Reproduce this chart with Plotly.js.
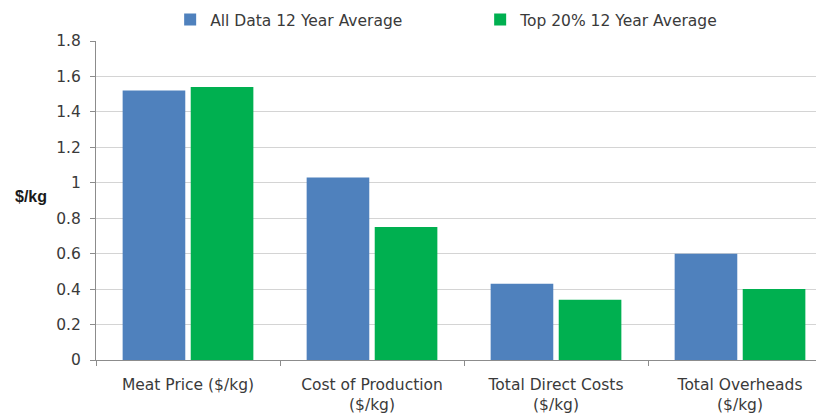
<!DOCTYPE html>
<html>
<head>
<meta charset="utf-8">
<script src="https://cdn.plot.ly/plotly-3.0.1.min.js"></script>
<style>html,body{margin:0;padding:0;background:#fff;}#chart{width:816px;height:420px;}</style>
</head>
<body>
<div id="chart"></div>
<script>
const categories = ["Meat Price ($/kg)", "Cost of Production<br>($/kg)", "Total Direct Costs<br>($/kg)", "Total Overheads<br>($/kg)"];
const seriesNames = ["All Data 12 Year Average", "Top 20% 12 Year Average"];
const allData = [1.52, 1.03, 0.43, 0.60];
const top20 = [1.54, 0.75, 0.34, 0.40];
const yTicks = [0, 0.2, 0.4, 0.6, 0.8, 1, 1.2, 1.4, 1.6, 1.8];

const font = {family: "DejaVu Sans, sans-serif", size: 15.5, color: "#3a3a3a"};

const traces = [
  {type: "bar", name: seriesNames[0], x: categories, y: allData, marker: {color: "#4F81BD"}},
  {type: "bar", name: seriesNames[1], x: categories, y: top20, marker: {color: "#00B050"}}
];

const layout = {
  width: 816, height: 420,
  margin: {l: 96, r: 0, t: 41, b: 60, pad: 0},
  paper_bgcolor: "#fff", plot_bgcolor: "#fff",
  font: font,
  barmode: "group",
  bargap: 0.26,
  bargroupgap: 0.08,
  showlegend: true,
  legend: {orientation: "h", x: 0.103, xanchor: "left", y: 1.066, yanchor: "middle",
           font: font, entrywidth: 265, itemwidth: 20, traceorder: "normal"},
  xaxis: {
    type: "category", range: [-0.5, 3.413],
    showline: true, linecolor: "#8c8c8c", linewidth: 1,
    ticks: "outside", ticklen: 5, tickcolor: "#8c8c8c", tickson: "boundaries",
    ticklabelstandoff: 10,
    showgrid: false, tickfont: font, fixedrange: true
  },
  yaxis: {
    range: [0, 1.8], tickvals: yTicks, ticktext: yTicks.map(String),
    showline: true, linecolor: "#8c8c8c", linewidth: 1,
    ticks: "outside", ticklen: 5, tickcolor: "#8c8c8c",
    ticklabelstandoff: 6,
    showgrid: true, gridcolor: "#d4d4d4", gridwidth: 1,
    zeroline: false, tickfont: font, fixedrange: true
  },
  annotations: [{
    text: "<b>$/kg</b>", xref: "paper", yref: "paper", x: -0.115, y: 0.511,
    xanchor: "left", yanchor: "middle", showarrow: false,
    font: {family: "Liberation Sans, Arial, sans-serif", size: 16, color: "#1a1a1a"}
  }]
};

Plotly.newPlot("chart", traces, layout, {displayModeBar: false, staticPlot: true});
</script>
</body>
</html>
